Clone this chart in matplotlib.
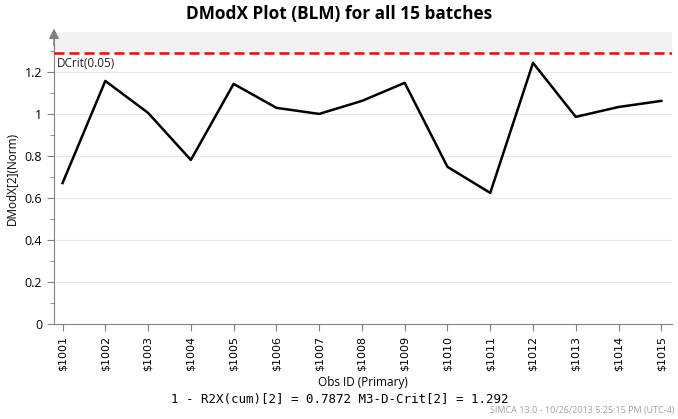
import matplotlib
matplotlib.use("Agg")
import matplotlib.pyplot as plt
from matplotlib.ticker import MultipleLocator

plt.rcParams["font.family"] = ["Open Sans", "DejaVu Sans"]

obs_ids = ["$1001", "$1002", "$1003", "$1004", "$1005", "$1006", "$1007", "$1008",
           "$1009", "$1010", "$1011", "$1012", "$1013", "$1014", "$1015"]
dmodx = [0.671, 1.157, 1.005, 0.781, 1.143, 1.029, 1.000, 1.062,
         1.148, 0.748, 0.624, 1.243, 0.986, 1.033, 1.062]
dcrit = 1.292

fig = plt.figure(figsize=(6.78, 4.19), dpi=100)
ax = fig.add_axes([54 / 678, 1 - 324 / 419, 618 / 678, 292 / 419])

x = list(range(len(obs_ids)))
ymax = 1.39
ax.axhspan(dcrit, ymax, color="#f2f2f2", zorder=0)
for g in [0.2, 0.4, 0.6, 0.8, 1.0, 1.2]:
    ax.axhline(g, color="#e6e6e6", lw=0.8, zorder=1)
ax.axhline(dcrit, color="#ff0000", lw=1.8, ls=(0, (4, 2)), zorder=3)
ax.text(0.004, dcrit - 0.022, "DCrit(0.05)", fontsize=8.5, va="top", ha="left",
        transform=ax.get_yaxis_transform(), color="#222222")
ax.plot(x, dmodx, color="black", lw=1.8, zorder=4)

ax.set_xlim(-0.2, 14.25)
ax.set_ylim(0, ymax)
ax.set_xticks(x)
ax.set_xticklabels(obs_ids, rotation=90, fontsize=8, family="DejaVu Sans")
ax.yaxis.set_major_locator(MultipleLocator(0.2))
ax.yaxis.set_minor_locator(MultipleLocator(0.1))
ax.set_yticks([0, 0.2, 0.4, 0.6, 0.8, 1.0, 1.2])
ax.set_yticklabels(["0", "0.2", "0.4", "0.6", "0.8", "1", "1.2"], fontsize=9)
ax.tick_params(axis="both", direction="out", color="#808080", length=5)
ax.tick_params(axis="y", which="minor", direction="out", color="#808080", length=3)
for s in ["top", "right"]:
    ax.spines[s].set_visible(False)
for s in ["left", "bottom"]:
    ax.spines[s].set_color("#808080")
ax.annotate("", xy=(-0.2, ymax + 0.03), xytext=(-0.2, ymax - 0.08),
            xycoords="data", annotation_clip=False,
            arrowprops=dict(arrowstyle="-|>", color="#808080", lw=1, mutation_scale=15))

ax.set_xlabel("Obs ID (Primary)", fontsize=8.5, labelpad=4)
ax.set_ylabel("DModX[2](Norm)", fontsize=8.5)

fig.text(0.5, 1 - 14 / 419, "DModX Plot (BLM) for all 15 batches", ha="center",
         va="center", fontsize=12.4, fontweight="bold")
fig.text(340 / 678, 1 - 399 / 419, "1 - R2X(cum)[2] = 0.7872 M3-D-Crit[2] = 1.292",
         ha="center", va="center", fontsize=9, family="DejaVu Sans Mono")
fig.text(675 / 678, 1 - 410 / 419, "SIMCA 13.0 - 10/26/2013 5:25:15 PM (UTC-4)",
         ha="right", va="center", fontsize=6.5, color="#a0a0a0")

fig.savefig("out.png", dpi=100)
